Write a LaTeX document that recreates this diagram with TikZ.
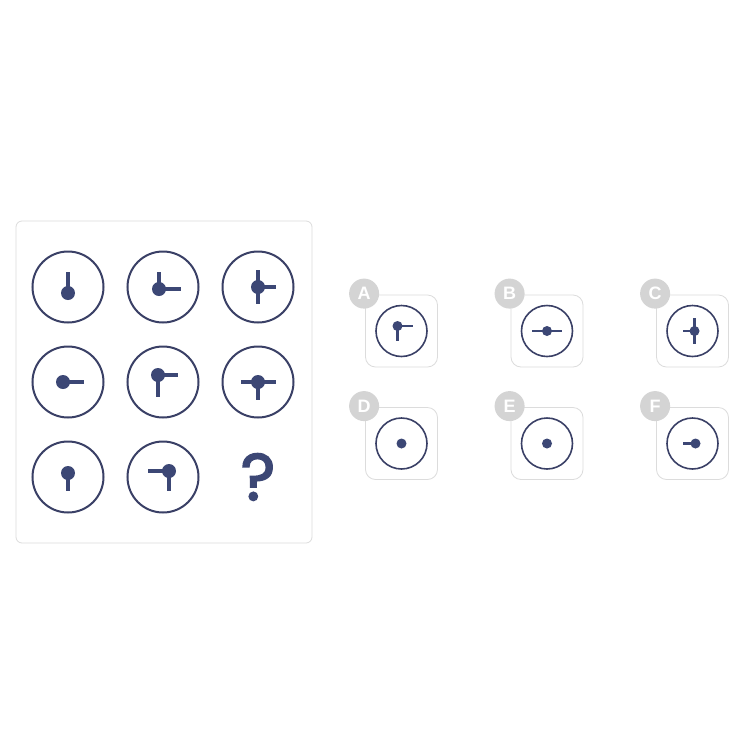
\documentclass[tikz,border=0pt]{standalone}
\usepackage{fontspec}
\setsansfont{Liberation Sans}
\newfontfamily\qfont{Poppins}[FakeBold=2.5]
\usetikzlibrary{positioning}
\definecolor{ink}{HTML}{3C4775}
\definecolor{rim}{HTML}{3A4066}
\definecolor{frame}{HTML}{DCDCDC}
\definecolor{badge}{HTML}{D4D4D4}

\begin{document}
\begin{tikzpicture}[x=1pt,y=-1pt,
  dial/.style={circle,draw=rim,line width=2pt,minimum size=71pt,inner sep=0pt},
  small dial/.style={circle,draw=rim,line width=1.6pt,minimum size=51pt,inner sep=0pt},
  hub/.style={circle,fill=ink,minimum size=14pt,inner sep=0pt},
  small hub/.style={circle,fill=ink,minimum size=10pt,inner sep=0pt},
  spoke/.style={draw=ink,line width=3.2pt},
  small spoke/.style={draw=ink,line width=2.4pt},
  card/.style={draw=frame,line width=0.8pt,rounded corners=10pt,fill=white,minimum size=72pt,inner sep=0pt},
  tag/.style={circle,fill=badge,minimum size=30pt,inner sep=0pt,text=white,font=\sffamily\bfseries\fontsize{18}{18}\selectfont}]
\useasboundingbox (0,0) rectangle (740,740);
\fill[white] (0,0) rectangle (740,740);

% question grid
\draw[frame,line width=0.8pt,rounded corners=6pt] (16,221) rectangle (312,543);
\begin{scope}
\node[dial] (c11) at (68,287) {};
\node[hub] (h11) at (68,293) {};
\draw[spoke] (h11.center) -- ++(0,-21);
\node[dial] (c12) at (163,287) {};
\node[hub] (h12) at (159,289) {};
\draw[spoke] (h12.center) -- ++(0,-17);
\draw[spoke] (h12.center) -- ++(22,0);
\node[dial] (c13) at (258,287) {};
\node[hub] (h13) at (258,287) {};
\draw[spoke] (h13.center) -- ++(0,-17);
\draw[spoke] (h13.center) -- ++(0,17);
\draw[spoke] (h13.center) -- ++(18,0);
\node[dial] (c21) at (68,382) {};
\node[hub] (h21) at (63,382) {};
\draw[spoke] (h21.center) -- ++(21,0);
\node[dial] (c22) at (163,382) {};
\node[hub] (h22) at (158,375) {};
\draw[spoke] (h22.center) -- ++(20,0);
\draw[spoke] (h22.center) -- ++(0,22);
\node[dial] (c23) at (258,382) {};
\node[hub] (h23) at (258,382) {};
\draw[spoke] (h23.center) -- ++(-17,0);
\draw[spoke] (h23.center) -- ++(18,0);
\draw[spoke] (h23.center) -- ++(0,18);
\node[dial] (c31) at (68,477) {};
\node[hub] (h31) at (68,473) {};
\draw[spoke] (h31.center) -- ++(0,18);
\node[dial] (c32) at (163,477) {};
\node[hub] (h32) at (169,471) {};
\draw[spoke] (h32.center) -- ++(-21,0);
\draw[spoke] (h32.center) -- ++(0,20);
\node[text=ink,font=\qfont\fontsize{66}{66}\selectfont] (q) at (258,477) {?};
\end{scope}

% answer options
\begin{scope}
\node[card] (oa) at (401.5,331) {};
\node[card] (ob) at (547,331) {};
\node[card] (oc) at (692.5,331) {};
\node[card] (od) at (401.5,443.5) {};
\node[card] (oe) at (547,443.5) {};
\node[card] (of) at (692.5,443.5) {};
\node[tag] (ta) at ([shift={(-1,-1)}]oa.north west) {A};
\node[tag] (tb) at ([shift={(-1,-1)}]ob.north west) {B};
\node[tag] (tc) at ([shift={(-1,-1)}]oc.north west) {C};
\node[tag] (td) at ([shift={(-1,-1)}]od.north west) {D};
\node[tag] (te) at ([shift={(-1,-1)}]oe.north west) {E};
\node[tag] (tf) at ([shift={(-1,-1)}]of.north west) {F};
\node[small dial] (da) at (oa) {};
\node[small hub] (ha) at (397.5,326) {};
\draw[small spoke] (ha.center) -- ++(15,0);
\draw[small spoke] (ha.center) -- ++(0,15);
\node[small dial] (db) at (ob) {};
\node[small hub] (hb) at (ob) {};
\draw[small spoke] (hb.center) -- ++(-15,0);
\draw[small spoke] (hb.center) -- ++(15,0);
\node[small dial] (dc) at (oc) {};
\node[small hub] (hc) at (694.5,331) {};
\draw[small spoke] (hc.center) -- ++(0,-13);
\draw[small spoke] (hc.center) -- ++(0,13);
\draw[small spoke] (hc.center) -- ++(-12,0);
\node[small dial] (dd) at (od) {};
\node[small hub] (hd) at (od) {};
\node[small dial] (de) at (oe) {};
\node[small hub] (he) at (oe) {};
\node[small dial] (df) at (of) {};
\node[small hub] (hf) at (695.5,443.5) {};
\draw[small spoke] (hf.center) -- ++(-13,0);
\end{scope}
\end{tikzpicture}
\end{document}
